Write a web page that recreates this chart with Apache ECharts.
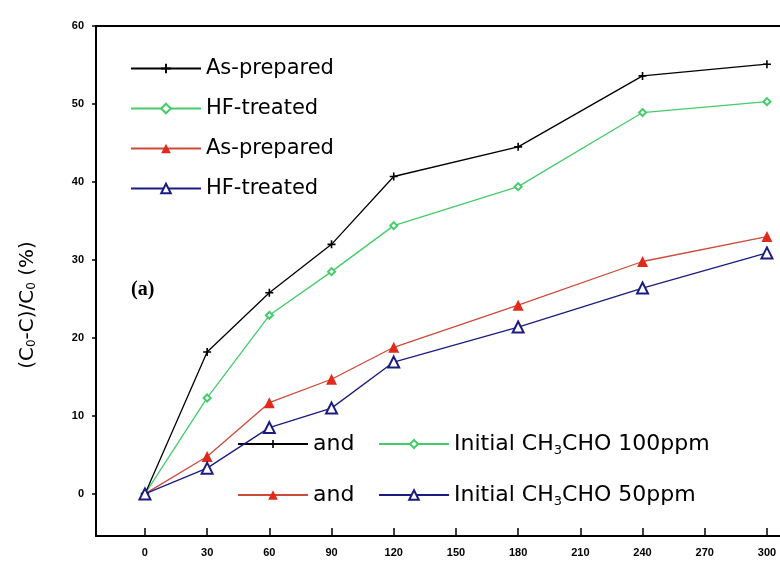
<!DOCTYPE html>
<html>
<head>
<meta charset="utf-8">
<script src="https://cdn.jsdelivr.net/npm/echarts@6/dist/echarts.min.js"></script>
<style>html,body{margin:0;padding:0;background:#fff}#c{width:780px;height:561px}</style>
</head>
<body>
<div id="c"></div>
<script>
// ---- data ----
const times = [0, 30, 60, 90, 120, 180, 240, 300];
const asPrepared100 = [0, 18.2, 25.8, 32.0, 40.7, 44.5, 53.6, 55.1];
const hfTreated100  = [0, 12.3, 22.9, 28.5, 34.4, 39.4, 48.9, 50.3];
const asPrepared50  = [0, 4.8, 11.7, 14.7, 18.8, 24.2, 29.8, 33.0];
const hfTreated50   = [0, 3.3, 8.5, 11.0, 16.9, 21.4, 26.4, 30.9];
const xTicks = [0, 30, 60, 90, 120, 150, 180, 210, 240, 270, 300];
const yTicks = [0, 10, 20, 30, 40, 50, 60];
const seriesNames = ['As-prepared 100ppm', 'HF-treated 100ppm', 'As-prepared 50ppm', 'HF-treated 50ppm'];
const legendLabels = {
  'As-prepared 100ppm': 'As-prepared',
  'HF-treated 100ppm': 'HF-treated',
  'As-prepared 50ppm': 'As-prepared',
  'HF-treated 50ppm': 'HF-treated'
};

const pair = arr => times.map((t, i) => [t, arr[i]]);
const plusPath = 'path://M4,0h2v4h4v2h-4v4h-2v-4h-4v-2h4z';

const cBlack = '#000000', cGreen = '#44cc6a', cRed = '#e02a1a', cRedLine = '#cc4a3a', cBlue = '#1c1c80';
const font = 'DejaVu Sans';

const chart = echarts.init(document.getElementById('c'), null, {renderer: 'canvas'});
chart.setOption({
  backgroundColor: '#ffffff',
  animation: false,
  title: {
    text: '(a)', left: 131, top: 280, padding: 0,
    textStyle: {fontFamily: 'Liberation Serif', fontWeight: 'bold', fontSize: 20, color: '#000'}
  },
  grid: {left: 96, right: 0, top: 26, bottom: 25},
  xAxis: [
    {
      type: 'value', min: -23.6, max: 306.3, position: 'bottom',
      axisLine: {onZero: false, lineStyle: {color: '#000', width: 2}},
      splitLine: {show: false},
      axisTick: {show: true, inside: true, length: 8, customValues: xTicks, lineStyle: {color: '#000', width: 1.5}},
      axisLabel: {customValues: xTicks, fontFamily: 'Liberation Sans', fontWeight: 'bold', fontSize: 11, color: '#000', margin: 11}
    },
    {
      type: 'value', min: -23.6, max: 306.3, position: 'top',
      axisLine: {onZero: false, lineStyle: {color: '#000', width: 2}},
      splitLine: {show: false}, axisTick: {show: false}, axisLabel: {show: false}
    }
  ],
  yAxis: {
    type: 'value', min: -5.4, max: 60,
    name: '(C{s|0}-C)/C{s|0} (%)',
    nameLocation: 'middle', nameGap: 58, nameRotate: 90,
    nameTextStyle: {fontFamily: font, fontSize: 20, color: '#000', padding: [0, 0, 0, -48],
      rich: {s: {fontFamily: font, fontSize: 12, verticalAlign: 'bottom', padding: [9, 0, 0, 0]}}},
    axisLine: {onZero: false, lineStyle: {color: '#000', width: 2}},
    splitLine: {show: false},
    axisTick: {show: true, inside: false, length: 4, customValues: yTicks, lineStyle: {color: '#000', width: 1.5}},
    axisLabel: {customValues: yTicks, fontFamily: 'Liberation Sans', fontWeight: 'bold', fontSize: 11, color: '#000', margin: 12}
  },
  legend: [
    {
      data: seriesNames, orient: 'vertical', left: 130, top: 58, padding: 0,
      itemWidth: 70, itemHeight: 12, itemGap: 19,
      formatter: n => legendLabels[n],
      textStyle: {fontFamily: font, fontSize: 21, color: '#000', lineHeight: 21}
    },
    {
      data: [seriesNames[0]], left: 237, top: 433, padding: 0, itemWidth: 70, itemHeight: 10,
      formatter: () => 'and',
      textStyle: {fontFamily: font, fontSize: 22, color: '#000'}
    },
    {
      data: [seriesNames[1]], left: 378, top: 433, padding: 0, itemWidth: 70, itemHeight: 10,
      formatter: () => 'Initial CH{s|3}CHO 100ppm',
      textStyle: {fontFamily: font, fontSize: 22, color: '#000',
        rich: {s: {fontFamily: font, fontSize: 13, verticalAlign: 'bottom', padding: [13, 0, 0, 0]}}}
    },
    {
      data: [seriesNames[2]], left: 237, top: 484, padding: 0, itemWidth: 70, itemHeight: 12,
      formatter: () => 'and',
      textStyle: {fontFamily: font, fontSize: 22, color: '#000'}
    },
    {
      data: [seriesNames[3]], left: 378, top: 484, padding: 0, itemWidth: 70, itemHeight: 12,
      formatter: () => 'Initial CH{s|3}CHO 50ppm',
      textStyle: {fontFamily: font, fontSize: 22, color: '#000',
        rich: {s: {fontFamily: font, fontSize: 13, verticalAlign: 'bottom', padding: [13, 0, 0, 0]}}}
    }
  ],
  series: [
    {
      name: seriesNames[0], type: 'line', data: pair(asPrepared100),
      symbol: plusPath, symbolSize: 8, z: 4,
      lineStyle: {color: cBlack, width: 1.3}, itemStyle: {color: cBlack}
    },
    {
      name: seriesNames[1], type: 'line', data: pair(hfTreated100),
      symbol: 'emptyDiamond', symbolSize: 7, z: 3,
      lineStyle: {color: cGreen, width: 1.3}, itemStyle: {color: cGreen, borderColor: cGreen, borderWidth: 1}
    },
    {
      name: seriesNames[2], type: 'line', data: pair(asPrepared50),
      symbol: 'triangle', symbolSize: 11, z: 2,
      lineStyle: {color: cRedLine, width: 1.3}, itemStyle: {color: cRed}
    },
    {
      name: seriesNames[3], type: 'line', data: pair(hfTreated50),
      symbol: 'emptyTriangle', symbolSize: 11, z: 5,
      lineStyle: {color: cBlue, width: 1.3}, itemStyle: {color: cBlue, borderColor: cBlue, borderWidth: 1.3}
    }
  ]
});
</script>
</body>
</html>
